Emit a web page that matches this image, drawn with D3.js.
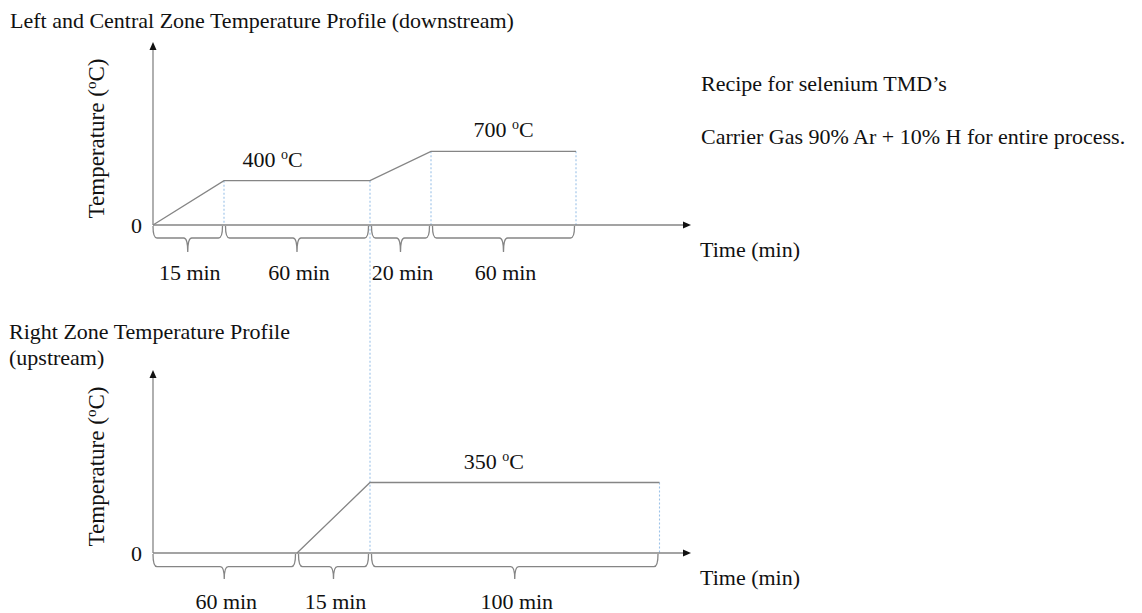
<!DOCTYPE html>
<html>
<head>
<meta charset="utf-8">
<script src="https://cdn.jsdelivr.net/npm/d3@7"></script>
<style>
  html, body { margin: 0; padding: 0; background: #fff; }
  svg { display: block; }
  text { font-family: "Liberation Serif", "Times New Roman", serif; font-size: 22px; fill: #111; }
</style>
</head>
<body>
<svg id="chart" width="1142" height="613"></svg>
<script>
// ---------- data ----------
const topTitle = "Left and Central Zone Temperature Profile (downstream)";
const bottomTitleLines = ["Right Zone Temperature Profile", "(upstream)"];
const topTimes = [0, 15, 75, 95, 155];          // min (cumulative)
const topTemps = [0, 400, 400, 700, 700];       // °C
const topSegmentLabels = ["15 min", "60 min", "20 min", "60 min"];
const bottomTimes = [0, 60, 75, 175];
const bottomTemps = [0, 0, 350, 350];
const bottomSegmentLabels = ["60 min", "15 min", "100 min"];
const topTempLabels = [{ t: 45, temp: 400, text: "400 " }, { t: 125, temp: 700, text: "700 " }];
const bottomTempLabels = [{ t: 121, temp: 350, text: "350 " }];
const notes = ["Recipe for selenium TMD’s", "Carrier Gas 90% Ar + 10% H for entire process."];
const yTickValues = [0];

// ---------- layout ----------
const svg = d3.select("#chart");
const lineGray = "#858585";
const dotBlue = "#9cc2e8";

// schematic (non-proportional) time axis shared by both panels
const allTimes = Array.from(new Set(topTimes.concat(bottomTimes))).sort((a, b) => a - b);
const x = d3.scaleLinear().domain(allTimes).range([153, 224, 297, 370, 431, 576, 659.5]);

const panels = [
  { times: topTimes, temps: topTemps, segs: topSegmentLabels, tl: topTempLabels,
    base: 225, axTop: 42, y: d3.scaleLinear().domain([0, 400, 700]).range([225, 180.7, 151.3]),
    braceY: 238, tickY: 252, segLabelY: 280, timeLabelY: 257 },
  { times: bottomTimes, temps: bottomTemps, segs: bottomSegmentLabels, tl: bottomTempLabels,
    base: 553, axTop: 370, y: d3.scaleLinear().domain([0, 350]).range([553, 482.5]),
    braceY: 566.7, tickY: 579, segLabelY: 609, timeLabelY: 585 }
];
const axisX0 = 153, axisX1 = 691;

// titles
svg.append("text").attr("x", 10).attr("y", 28).text(topTitle);
svg.selectAll("text.btitle").data(bottomTitleLines).join("text")
  .attr("class", "btitle").attr("x", 9).attr("y", (d, i) => 339 + i * 25.5).text(d => d);

// notes
svg.selectAll("text.note").data(notes).join("text")
  .attr("class", "note").attr("x", 701).attr("y", (d, i) => 91 + i * 53).text(d => d);

// dotted guide lines (drawn first, under lines)
const dots = svg.append("g").attr("stroke", dotBlue).attr("stroke-width", 1.1)
  .attr("stroke-dasharray", "2,2").attr("fill", "none");
topTimes.forEach((t, i) => {
  if (i === 0) return;
  const bIdx = bottomTimes.indexOf(t);
  const yEnd = (bIdx >= 0) ? panels[1].base : panels[0].base;
  dots.append("line").attr("x1", x(t)).attr("x2", x(t))
    .attr("y1", panels[0].y(topTemps[i])).attr("y2", yEnd);
});
bottomTimes.forEach((t, i) => {
  if (bottomTemps[i] === 0 || topTimes.indexOf(t) >= 0) return;
  dots.append("line").attr("x1", x(t)).attr("x2", x(t))
    .attr("y1", panels[1].y(bottomTemps[i])).attr("y2", panels[1].base);
});

panels.forEach(p => {
  const g = svg.append("g");
  // axes lines
  g.append("line").attr("x1", axisX0).attr("x2", axisX0).attr("y1", p.base).attr("y2", p.axTop + 6)
    .attr("stroke", lineGray).attr("stroke-width", 1.3);
  g.append("line").attr("x1", axisX0).attr("x2", axisX1 - 6).attr("y1", p.base).attr("y2", p.base)
    .attr("stroke", lineGray).attr("stroke-width", 1.3);
  g.append("path").attr("d", `M${axisX0},${p.axTop} L${axisX0 - 3.5},${p.axTop + 8} L${axisX0 + 3.5},${p.axTop + 8} Z`).attr("fill", "#111");
  g.append("path").attr("d", `M${axisX1},${p.base} L${axisX1 - 8},${p.base - 3.5} L${axisX1 - 8},${p.base + 3.5} Z`).attr("fill", "#111");

  // "0" tick through axis generator
  const ax = g.append("g").attr("transform", `translate(${axisX0},0)`)
    .call(d3.axisLeft(p.y).tickValues(yTickValues).tickSize(0).tickPadding(11));
  ax.select(".domain").remove();
  ax.selectAll("text").attr("font-size", 22).attr("font-family", "Liberation Serif").attr("fill", "#111");

  // y label
  const yl = g.append("text").attr("text-anchor", "middle").attr("font-size", 23)
    .attr("transform", `translate(104,${(p.base + p.axTop) / 2 + 5}) rotate(-90)`);
  yl.append("tspan").attr("font-size", 23).text("Temperature (");
  yl.append("tspan").attr("font-size", 15).attr("dy", -8).text("o");
  yl.append("tspan").attr("font-size", 23).attr("dy", 8).text("C)");

  // time label
  g.append("text").attr("x", 700).attr("y", p.timeLabelY).text("Time (min)");

  // profile line
  const pts = p.times.map((t, i) => [t, p.temps[i]]).filter((d, i) => !(i === 0 && p.temps[1] === 0));
  g.append("path").datum(pts)
    .attr("d", d3.line().x(d => x(d[0])).y(d => p.y(d[1])))
    .attr("fill", "none").attr("stroke", lineGray).attr("stroke-width", 1.3);

  // braces
  const segs = p.segs.map((lab, i) => ({ lab, a: p.times[i], b: p.times[i + 1] }));
  segs.forEach((s, i) => {
    const x0 = x(s.a) + (i === 0 ? 0 : 1.5), x1 = x(s.b) - 1.5, m = (x0 + x1) / 2;
    const b = p.base + 1, h = p.braceY, t = p.tickY, r = 4;
    g.append("path")
      .attr("d", `M${x0},${b} Q${x0},${h} ${x0 + r},${h} L${m - r},${h} Q${m},${h} ${m},${t} Q${m},${h} ${m + r},${h} L${x1 - r},${h} Q${x1},${h} ${x1},${b}`)
      .attr("fill", "none").attr("stroke", lineGray).attr("stroke-width", 1.3);
    g.append("text").attr("x", m + 2).attr("y", p.segLabelY).attr("text-anchor", "middle").text(s.lab);
  });

  // temperature annotations
  p.tl.forEach(d => {
    const tx = g.append("text").attr("x", x(d.t)).attr("y", p.y(d.temp) - 14).attr("text-anchor", "middle");
    tx.append("tspan").text(d.text);
    tx.append("tspan").attr("font-size", 14).attr("dy", -8).text("o");
    tx.append("tspan").attr("dy", 8).text("C");
  });
});
</script>
</body>
</html>
